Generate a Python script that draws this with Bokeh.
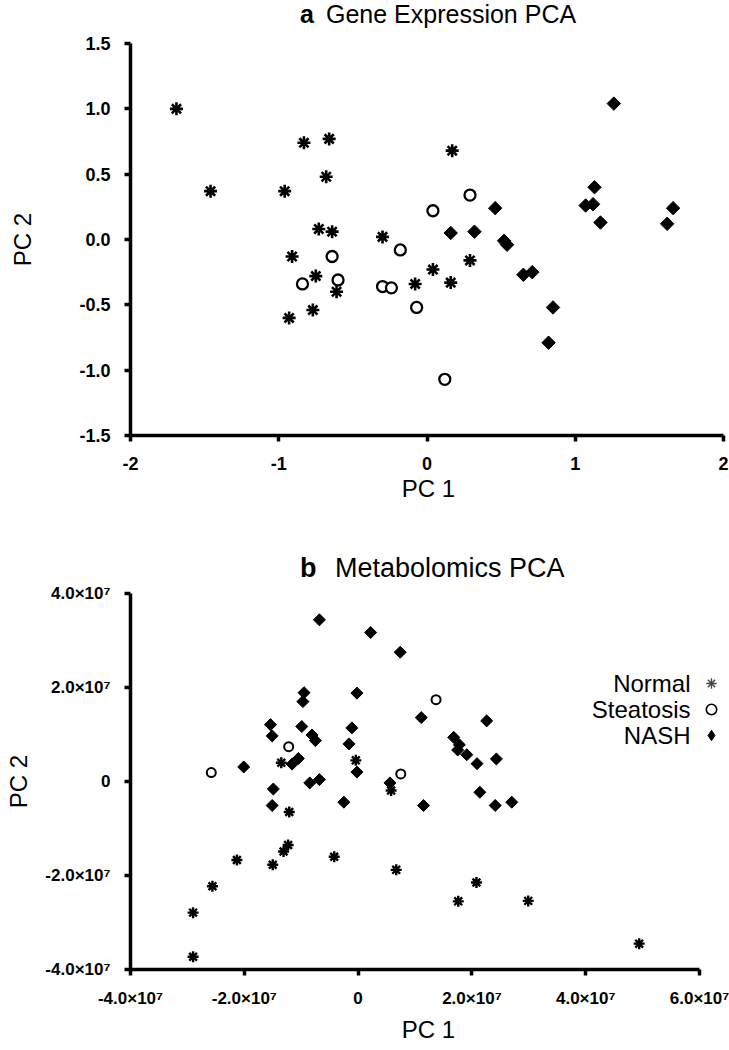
import math
from bokeh.plotting import figure
from bokeh.layouts import column
from bokeh.models import FixedTicker, Label, Legend, LegendItem, Range1d, Div
from bokeh.embed import file_html
from bokeh.resources import INLINE

FONT = "Liberation Sans"
NAN = float("nan")

# ---------------- Panel a: Gene Expression PCA ----------------
a_title = ("a", "Gene Expression PCA")
a_normal_x = [-1.69, -1.46, -0.83, -0.66, -0.68, -0.96, -0.73, -0.64, -0.91, -0.75,
              -0.61, -0.77, -0.93, -0.30, -0.08, 0.17, 0.04, 0.16, 0.29]
a_normal_y = [1.00, 0.37, 0.74, 0.77, 0.48, 0.37, 0.08, 0.06, -0.13, -0.28,
              -0.40, -0.54, -0.60, 0.02, -0.34, 0.68, -0.23, -0.33, -0.16]
a_steat_x = [-0.64, -0.84, -0.60, -0.30, -0.24, -0.18, -0.07, 0.29, 0.04, 0.12]
a_steat_y = [-0.13, -0.34, -0.31, -0.36, -0.37, -0.08, -0.52, 0.34, 0.22, -1.07]
a_nash_x = [1.26, 1.13, 1.07, 1.12, 1.17, 1.66, 1.62, 0.46, 0.16, 0.32,
            0.52, 0.54, 0.65, 0.71, 0.85, 0.82]
a_nash_y = [1.04, 0.40, 0.26, 0.27, 0.13, 0.24, 0.12, 0.24, 0.05, 0.06,
            -0.01, -0.04, -0.27, -0.25, -0.52, -0.79]
a_xticks = [-2, -1, 0, 1, 2]
a_xlabels = ["-2", "-1", "0", "1", "2"]
a_yticks = [-1.5, -1.0, -0.5, 0.0, 0.5, 1.0, 1.5]
a_ylabels = ["-1.5", "-1.0", "-0.5", "0.0", "0.5", "1.0", "1.5"]

# ---------------- Panel b: Metabolomics PCA ----------------
b_title = ("b", "Metabolomics PCA")
b_normal_x = [-1.35e7, -0.04e7, -1.21e7, -1.23e7, -1.31e7, -2.13e7, -1.50e7, -0.42e7,
              -2.56e7, -2.90e7, 0.67e7, 0.58e7, 2.08e7, 1.76e7, 2.99e7, -2.90e7, 4.94e7]
b_normal_y = [0.40e7, 0.45e7, -0.65e7, -1.35e7, -1.49e7, -1.67e7, -1.77e7, -1.60e7,
              -2.23e7, -2.79e7, -1.88e7, -0.19e7, -2.15e7, -2.55e7, -2.54e7, -3.73e7, -3.45e7]
b_steat_x = [-2.58e7, -1.22e7, 1.37e7, 0.75e7]
b_steat_y = [0.19e7, 0.74e7, 1.74e7, 0.16e7]
b_nash_x = [-0.68e7, 0.22e7, 0.74e7, -0.95e7, -0.97e7, -0.02e7, -1.54e7, -1.51e7, -0.99e7,
            -0.81e7, -0.75e7, -0.11e7, -0.16e7, -2.01e7, -1.05e7, -1.16e7, -0.02e7, -0.85e7,
            -0.68e7, -1.49e7, -1.51e7, -0.25e7, 0.56e7, 1.11e7, 2.26e7, 1.68e7, 1.78e7,
            1.75e7, 1.91e7, 2.09e7, 2.43e7, 2.14e7, 1.15e7, 2.41e7, 2.70e7]
b_nash_y = [3.44e7, 3.17e7, 2.75e7, 1.89e7, 1.70e7, 1.88e7, 1.21e7, 0.97e7, 1.17e7,
            0.99e7, 0.87e7, 1.14e7, 0.80e7, 0.31e7, 0.49e7, 0.37e7, 0.20e7, -0.03e7,
            0.04e7, -0.16e7, -0.51e7, -0.44e7, -0.03e7, 1.36e7, 1.29e7, 0.94e7, 0.78e7,
            0.67e7, 0.57e7, 0.38e7, 0.48e7, -0.23e7, -0.51e7, -0.51e7, -0.44e7]
b_xticks = [-4e7, -2e7, 0, 2e7, 4e7, 6e7]
b_xlabels = ["-4.0×10⁷", "-2.0×10⁷", "0", "2.0×10⁷", "4.0×10⁷", "6.0×10⁷"]
b_yticks = [-4e7, -2e7, 0, 2e7, 4e7]
b_ylabels = ["-4.0×10⁷", "-2.0×10⁷", "0", "2.0×10⁷", "4.0×10⁷"]
groups = ["Normal", "Steatosis", "NASH"]


def heading(letter, text, height, top, size, letter_left, text_left):
    html = (
        f'<div style="position:relative;width:729px;height:{height}px;'
        f'font-family:\'{FONT}\';color:black;font-size:{size}px;line-height:normal;">'
        f'<span style="position:absolute;left:{letter_left}px;top:{top}px;font-weight:bold;">{letter}</span>'
        f'<span style="position:absolute;left:{text_left}px;top:{top}px;white-space:nowrap;">{text}</span>'
        f'</div>'
    )
    return Div(text=html, width=729, height=height, margin=0)


def style_axes(p, xt, xl, yt, yl, tick_font, xstand, ystand, xlab_stand, ylab_stand):
    p.xgrid.visible = False
    p.ygrid.visible = False
    p.outline_line_color = None
    p.background_fill_color = "white"
    p.border_fill_color = "white"
    p.xaxis.ticker = FixedTicker(ticks=xt)
    p.yaxis.ticker = FixedTicker(ticks=yt)
    p.xaxis.bounds = (min(xt), max(xt))
    p.yaxis.bounds = (min(yt), max(yt))
    p.xaxis.major_label_overrides = {t: l for t, l in zip(xt, xl)}
    p.yaxis.major_label_overrides = {t: l for t, l in zip(yt, yl)}
    for ax in (p.xaxis, p.yaxis):
        ax.axis_line_width = 3.5
        ax.axis_line_color = "black"
        ax.major_tick_line_width = 3.5
        ax.major_tick_line_color = "black"
        ax.major_tick_out = 6
        ax.major_tick_in = 0
        ax.minor_tick_out = 0
        ax.minor_tick_in = 0
        ax.major_label_text_font = FONT
        ax.major_label_text_font_style = "bold"
        ax.major_label_text_font_size = tick_font
        ax.major_label_text_color = "black"
        ax.axis_label_text_font = FONT
        ax.axis_label_text_font_style = "normal"
        ax.axis_label_text_font_size = "24px"
        ax.axis_label_text_color = "black"
    p.xaxis.major_label_standoff = xstand
    p.yaxis.major_label_standoff = ystand
    p.xaxis.axis_label_standoff = xlab_stand
    p.yaxis.axis_label_standoff = ylab_stand


# ---- figure a ---- (page: heading 0..33, figure 33..510, frame x 130..726, y 43..435)
head_a = heading(a_title[0], a_title[1], 33, 0, 25, 300, 326)
pa = figure(width=729, height=477, output_backend="svg", toolbar_location=None,
            x_range=Range1d(-2, 2.0202), y_range=Range1d(-1.5, 1.5),
            min_border_left=130, min_border_right=3, min_border_top=10, min_border_bottom=75,
            x_axis_label="PC 1", y_axis_label="PC 2")
style_axes(pa, a_xticks, a_xlabels, a_yticks, a_ylabels, "18px", 15, 14, 2, 40)

pa.scatter(a_normal_x, a_normal_y, marker="asterisk", size=13, line_color="black", line_width=2.6)
pa.scatter(a_steat_x, a_steat_y, marker="circle", size=11, fill_color="white",
           line_color="black", line_width=2.3)
pa.scatter(a_nash_x, a_nash_y, marker="square", angle=math.pi / 4, size=9.5,
           fill_color="black", line_color="black")

# ---- figure b ---- (page: heading 510..583, figure 583..1048, frame x 130..726, y 593..969)
head_b = heading(b_title[0], b_title[1], 73, 43, 27, 300, 335)
pb = figure(width=729, height=465, output_backend="svg", toolbar_location=None,
            x_range=Range1d(-4e7, 6.4745e7), y_range=Range1d(-4e7, 4e7),
            min_border_left=130, min_border_right=3, min_border_top=10, min_border_bottom=79,
            x_axis_label="PC 1", y_axis_label="PC 2")
style_axes(pb, b_xticks, b_xlabels, b_yticks, b_ylabels, "17px", 13, 14, 5, 10)

pb.scatter(b_normal_x, b_normal_y, marker="asterisk", size=11, line_color="black", line_width=2.4)
pb.scatter(b_steat_x, b_steat_y, marker="circle", size=9, fill_color="white",
           line_color="black", line_width=2)
pb.scatter(b_nash_x, b_nash_y, marker="square", angle=math.pi / 4, size=8.5,
           fill_color="black", line_color="black")

# legend keys: styled key glyphs (no visible data point), symbol right of the name
key_n = pb.scatter([NAN], [NAN], marker="asterisk", line_color="#444444", line_width=1.4)
key_s = pb.scatter([NAN], [NAN], marker="circle", fill_color="white", line_color="black",
                   line_width=1.6)
key_d = pb.scatter([NAN], [NAN], marker="diamond", fill_color="black", line_color="black")
legend = Legend(items=[LegendItem(label=" ", renderers=[r]) for r in (key_n, key_s, key_d)],
                location=(566, 221), glyph_width=30, glyph_height=26, label_height=26,
                label_width=0, label_standoff=0, spacing=0, padding=0, margin=0,
                border_line_color=None, background_fill_alpha=0,
                label_text_font=FONT, label_text_font_size="24px")
pb.add_layout(legend)
for g, ly in zip(groups, [2.085e7, 1.532e7, 0.979e7]):
    pb.add_layout(Label(x=5.842e7, y=ly, text=g, text_font=FONT, text_font_size="24px",
                        text_color="black", text_align="right", text_baseline="middle"))

layout = column(head_a, pa, head_b, pb, spacing=0)
open("out.html", "w").write(file_html(layout, INLINE))
